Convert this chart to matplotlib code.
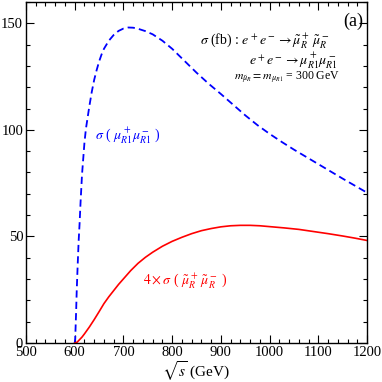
import matplotlib

matplotlib.use("Agg")
import matplotlib.pyplot as plt
from matplotlib.ticker import MultipleLocator

plt.rcParams["font.family"] = ["Liberation Serif", "DejaVu Serif"]
plt.rcParams["mathtext.fontset"] = "stix"

# sigma(mu_R1+ mu_R1-) in fb
sqrt_s_blue = [600, 601, 602, 603, 604, 605, 606, 608, 610, 612, 615, 618, 620,
               623, 626, 630, 635, 640, 645, 650, 655, 660, 670, 680, 690, 700,
               710, 720, 730, 745, 760, 780, 800, 825, 850, 875, 900, 925, 950,
               975, 1000, 1025, 1050, 1075, 1100, 1125, 1150, 1175, 1200]
sigma_blue = [0, 2, 8.5, 15.5, 23.5, 30, 36, 47.5, 56, 66, 79, 88, 94,
              100.5, 105, 111, 117.8, 123.5, 128, 132, 135.3, 138, 141.8, 144.5, 146.4, 147.5,
              148, 147.9, 147.4, 146.3, 144.8, 141.8, 138, 132.4, 126.8, 121.6, 116.8, 111.8, 106.8,
              102.2, 98.1, 94.3, 90.7, 87.3, 83.9, 80.5, 77.1, 73.8, 70.5]

# 4 x sigma(smu_R+ smu_R-) in fb
sqrt_s_red = [600, 605, 610, 615, 620, 630, 640, 650, 660, 670, 680, 690, 700,
              715, 730, 745, 760, 780, 800, 820, 840, 860, 880, 900, 920, 940,
              960, 980, 1000, 1030, 1060, 1090, 1120, 1150, 1175, 1200]
sigma_red = [0, 0.4, 1.6, 2.8, 4.3, 7.5, 11, 14.7, 18.5, 21.7, 24.6, 27.5, 30.1,
             34, 37.4, 40.2, 42.6, 45.4, 47.7, 49.6, 51.3, 52.7, 53.7, 54.5, 55, 55.2,
             55.2, 55, 54.6, 54, 53.3, 52.3, 51.3, 50.2, 49.2, 48.1]

fig = plt.figure(figsize=(3.82, 3.82), dpi=100)
ax = fig.add_axes([0.068, 0.102, 0.893, 0.893])

ax.plot(sqrt_s_blue, sigma_blue, color="#0000ff", lw=1.3, ls=(0, (4, 2.3)))
ax.plot(sqrt_s_red, sigma_red, color="#ff0000", lw=1.2)

ax.set_xlim(500, 1200)
ax.set_ylim(0, 160)
ax.xaxis.set_major_locator(MultipleLocator(100))
ax.xaxis.set_minor_locator(MultipleLocator(20))
ax.yaxis.set_major_locator(MultipleLocator(50))
ax.yaxis.set_minor_locator(MultipleLocator(10))
ax.tick_params(which="both", direction="in", top=True, right=True,
               labelsize=10.5, pad=2, width=0.8)
ax.tick_params(which="major", length=6)
ax.tick_params(which="minor", length=3)
for sp in ax.spines.values():
    sp.set_linewidth(1.0)

ax.set_xlabel(r"$\sqrt{s}$ (GeV)", fontsize=11, labelpad=0)

# anotações
ax.text(857, 142, r"$\sigma$ (fb) : $e^+e^-\rightarrow\tilde{\mu}^+_R\,\tilde{\mu}^-_R$",
        fontsize=10, va="center", ha="left")
ax.text(1140, 132.5, r"$e^+e^-\rightarrow\mu^+_{R1}\mu^-_{R1}$",
        fontsize=10, va="center", ha="right")
ax.text(1144, 124.2, r"$m_{\tilde{\mu}_R} = m_{\mu_{R1}}$ = 300 GeV",
        fontsize=8.5, va="center", ha="right")
ax.text(1192, 151, "(a)", fontsize=13, va="center", ha="right")

ax.text(641, 97, r"$\sigma$ ( $\mu^+_{R1}\mu^-_{R1}$ )", color="#0000ff",
        fontsize=10, va="center", ha="left")
ax.text(740, 29.4, r"$4\times\sigma$ ( $\tilde{\mu}^+_R\,\tilde{\mu}^-_R$ )", color="#ff0000",
        fontsize=10, va="center", ha="left")

fig.savefig("out.png", dpi=100)
